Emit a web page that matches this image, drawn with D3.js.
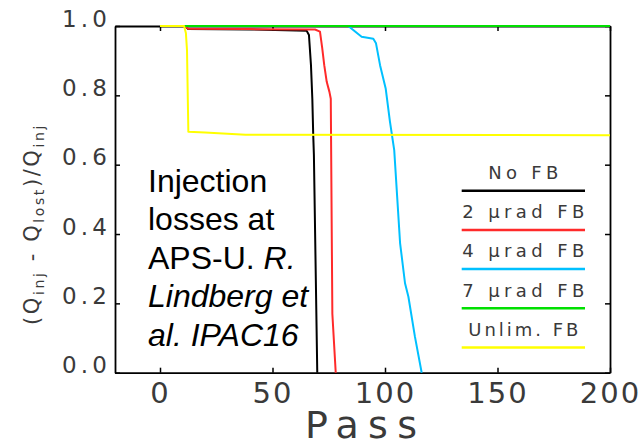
<!DOCTYPE html>
<html>
<head>
<meta charset="utf-8">
<script src="https://cdn.jsdelivr.net/npm/d3@7"></script>
<style>
  body { margin: 0; background: #fff; }
  svg { display: block; }
  .idl { font-family: "DejaVu Sans", sans-serif; font-weight: normal; fill: #3a3a3a; }
</style>
</head>
<body>
<div id="chart"></div>
<script>
// Series data (pass, fraction kept)
const passNoFB = [0, 11, 12.5, 40, 65.2, 66.2, 67.1, 67.7, 68.1, 68.4, 69.9];
const valNoFB  = [1, 1, 0.991, 0.99, 0.986, 0.974, 0.887, 0.79, 0.686, 0.628, 0];

const pass2FB = [0, 11, 12.5, 40, 68.9, 71.1, 72.1, 73, 74.1, 75.3, 75.9, 76.6, 78.1];
const val2FB  = [1, 1, 0.992, 0.991, 0.99, 0.984, 0.936, 0.887, 0.839, 0.81, 0.79, 0.17, 0];

const pass4FB = [0, 83.7, 86.7, 89.6, 94.8, 96, 97.8, 100.3, 102.2, 104.1, 106.7, 108.9, 110.4, 113.3, 116.3];
const val4FB  = [1, 1, 0.984, 0.969, 0.963, 0.95, 0.887, 0.82, 0.724, 0.642, 0.374, 0.258, 0.219, 0.104, 0];

const pass7FB = [0, 200];
const val7FB  = [1, 1];

const passUnlim = [0, 10.7, 11.5, 12, 12.6, 20, 38, 200];
const valUnlim  = [1, 1, 0.98, 0.93, 0.695, 0.693, 0.686, 0.685];

const seriesNames  = ['No FB', '2 \u03bcrad FB', '4 \u03bcrad FB', '7 \u03bcrad FB', 'Unlim. FB'];
const seriesColors = ['#000000', '#ff2a2a', '#00c0ff', '#00e000', '#ffff00'];

const xTicks = [0, 50, 100, 150, 200];
const yTicks = [0, 0.2, 0.4, 0.6, 0.8, 1.0];

const noteLines = [
    [['Injection', false]],
    [['losses at', false]],
    [['APS-U. ', false], ['R.', true]],
    [['Lindberg et', true]],
    [['al. IPAC16', true]]
];

const width = 644, height = 447;
const margin = {top: 26, right: 34, bottom: 74.3, left: 115};

const svg = d3.select('#chart')
    .append('svg')
    .attr('width', width)
    .attr('height', height);

const x = d3.scaleLinear().domain([-20, 200]).range([margin.left, width - margin.right]);
const y = d3.scaleLinear().domain([0, 1]).range([height - margin.bottom, margin.top]);

// Axes (IDL style: ticks point inward on all four sides)
const axes = svg.append('g');

const left = axes.append('g')
    .attr('transform', `translate(${margin.left},0)`)
    .call(d3.axisLeft(y).tickValues(yTicks).tickFormat(d3.format('.1f'))
        .tickSizeInner(-5).tickSizeOuter(0).tickPadding(8));
left.selectAll('text')
    .attr('class', 'idl')
    .attr('dy', 0)
    .attr('font-size', 23)
    .attr('textLength', 45)
    .attr('lengthAdjust', 'spacing');

const bottom = axes.append('g')
    .attr('transform', `translate(0,${y(0)})`)
    .call(d3.axisBottom(x).tickValues(xTicks).tickFormat(d3.format('d'))
        .tickSizeInner(-5).tickSizeOuter(0));
bottom.selectAll('text')
    .attr('class', 'idl')
    .attr('y', 30)
    .attr('dy', 0)
    .attr('font-size', 29)
    .attr('letter-spacing', 2);

axes.append('g')
    .attr('transform', `translate(${x(200)},0)`)
    .call(d3.axisRight(y).tickValues(yTicks).tickFormat('')
        .tickSizeInner(-5).tickSizeOuter(0));

axes.append('g')
    .attr('transform', `translate(0,${y(1)})`)
    .call(d3.axisTop(x).tickValues(xTicks).tickFormat('')
        .tickSizeInner(-5).tickSizeOuter(0));

axes.selectAll('.domain').attr('stroke', '#000').attr('stroke-width', 1.8);
axes.selectAll('.tick line').attr('stroke', '#000').attr('stroke-width', 1.5);

// Axis titles
svg.append('text')
    .attr('class', 'idl')
    .attr('x', 361).attr('y', 438)
    .attr('text-anchor', 'middle')
    .attr('font-size', 38)
    .attr('textLength', 112)
    .attr('lengthAdjust', 'spacing')
    .text('Pass');

const yTitle = svg.append('text')
    .attr('class', 'idl')
    .attr('transform', 'translate(39,224) rotate(-90)')
    .attr('text-anchor', 'middle')
    .attr('font-size', 21)
    .attr('letter-spacing', 2.6);
yTitle.append('tspan').text('(Q');
yTitle.append('tspan').attr('font-size', 14).attr('dy', 5).text('inj');
yTitle.append('tspan').attr('dy', -5).text('  -  Q');
yTitle.append('tspan').attr('font-size', 14).attr('dy', 5).text('lost');
yTitle.append('tspan').attr('dy', -5).text(')/Q');
yTitle.append('tspan').attr('font-size', 14).attr('dy', 5).text('inj');

// Series lines
const series = [
    {pass: passNoFB, val: valNoFB},
    {pass: pass2FB, val: val2FB},
    {pass: pass4FB, val: val4FB},
    {pass: pass7FB, val: val7FB},
    {pass: passUnlim, val: valUnlim}
];

const line = d3.line()
    .x(d => x(d[0]))
    .y(d => y(d[1]));

series.forEach((s, i) => {
    svg.append('path')
        .datum(s.pass.map((p, j) => [p, s.val[j]]))
        .attr('fill', 'none')
        .attr('stroke', seriesColors[i])
        .attr('stroke-width', 2)
        .attr('stroke-linejoin', 'round')
        .attr('d', line);
});

// Legend
const legend = svg.append('g');
const legendW = [70, 122, 122, 122, 110];
seriesNames.forEach((name, i) => {
    const ly = 190.7 + i * 39.2;
    legend.append('line')
        .attr('x1', 461.7).attr('x2', 585)
        .attr('y1', ly).attr('y2', ly)
        .attr('stroke', seriesColors[i])
        .attr('stroke-width', 2.5);
    legend.append('text')
        .attr('class', 'idl')
        .attr('x', 523.3).attr('y', ly - 11.8)
        .attr('text-anchor', 'middle')
        .attr('font-size', 18)
        .attr('textLength', legendW[i])
        .attr('lengthAdjust', 'spacing')
        .text(name);
});

// Annotation
const note = svg.append('text')
    .attr('font-family', '"Liberation Sans", Arial, sans-serif')
    .attr('font-size', 32)
    .attr('fill', '#000');
noteLines.forEach((parts, i) => {
    parts.forEach((p, k) => {
        const t = note.append('tspan').text(p[0]);
        if (k === 0) t.attr('x', 148).attr('y', 191.5 + i * 38.5);
        if (p[1]) t.attr('font-style', 'italic');
    });
});
</script>
</body>
</html>
